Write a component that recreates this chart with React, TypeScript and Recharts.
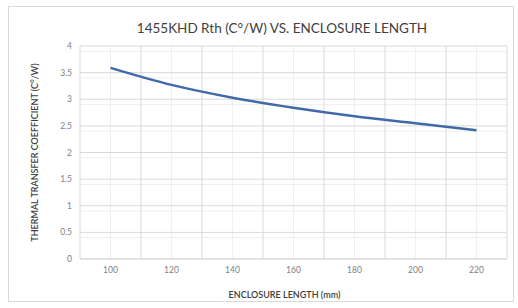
import { LineChart, Line, XAxis, YAxis, CartesianGrid, Label } from "recharts"

const lengths = [100, 120, 140, 160, 180, 200, 220]
const rth = [3.59, 3.27, 3.03, 2.84, 2.68, 2.55, 2.42]

const xTicks = [100, 120, 140, 160, 180, 200, 220]
const yTicks = [0, 0.5, 1, 1.5, 2, 2.5, 3, 3.5, 4]
const xMajorGrid = [90, 110, 130, 150, 170, 190, 210, 230]
const xMinorGrid = [100, 120, 140, 160, 180, 200, 220]
const yMinorGrid = [
  0.1, 0.2, 0.3, 0.4, 0.6, 0.7, 0.8, 0.9, 1.1, 1.2, 1.3, 1.4, 1.6, 1.7, 1.8, 1.9, 2.1, 2.2, 2.3, 2.4, 2.6, 2.7, 2.8,
  2.9, 3.1, 3.2, 3.3, 3.4, 3.6, 3.7, 3.8, 3.9,
]

const data = lengths.map((len, i) => ({ len, rth: rth[i] }))

const font = "Lato, 'Open Sans', sans-serif"

export default function App() {
  return (
    <div style={{ position: "fixed", left: 0, top: 0, width: 518, height: 308, background: "#fff", fontFamily: font }}>
      <div
        style={{
          position: "absolute",
          left: 8,
          top: 6,
          width: 506,
          height: 296,
          border: "1px solid #d9d9d9",
          boxSizing: "border-box",
        }}
      />
      <div
        style={{
          position: "absolute",
          left: 0,
          width: 564,
          top: 20,
          textAlign: "center",
          fontSize: 13.5,
          color: "#404040",
        }}
      >
        1455KHD Rth (C°/W) VS. ENCLOSURE LENGTH
      </div>
      <div style={{ position: "absolute", left: 0, top: 0 }}>
        <LineChart width={518} height={308} data={data} margin={{ top: 46, right: 11, bottom: 0, left: 0 }}>
          <CartesianGrid stroke="#efefef" verticalValues={xMinorGrid} horizontalValues={yMinorGrid} />
          <CartesianGrid stroke="#d9d9d9" verticalValues={xMajorGrid} horizontalValues={yTicks} />
          <XAxis
            dataKey="len"
            type="number"
            domain={[90, 230]}
            ticks={xTicks}
            height={49}
            tickLine={false}
            axisLine={{ stroke: "#d9d9d9" }}
            tick={{ fontSize: 8.5, fill: "#7f7f7f", fontFamily: font }}
          >
            <Label
              value="ENCLOSURE LENGTH (mm)"
              position="insideBottom"
              offset={10}
              dx={-9}
              style={{ fontSize: 9, fill: "#404040", fontFamily: font, fontWeight: 600 }}
            />
          </XAxis>
          <YAxis
            type="number"
            domain={[0, 4]}
            ticks={yTicks}
            width={80}
            tickLine={false}
            axisLine={false}
            tick={{ fontSize: 8.5, fill: "#7f7f7f", fontFamily: font }}
          >
            <Label
              value="THERMAL TRANSFER COEFFICIENT (C°/W)"
              angle={-90}
              position="center"
              dx={-5}
              style={{ fontSize: 9, fill: "#404040", fontFamily: font, fontWeight: 600 }}
            />
          </YAxis>
          <Line
            dataKey="rth"
            type="monotone"
            stroke="#4169a8"
            strokeWidth={2.5}
            dot={false}
            isAnimationActive={false}
          />
        </LineChart>
      </div>
    </div>
  )
}
